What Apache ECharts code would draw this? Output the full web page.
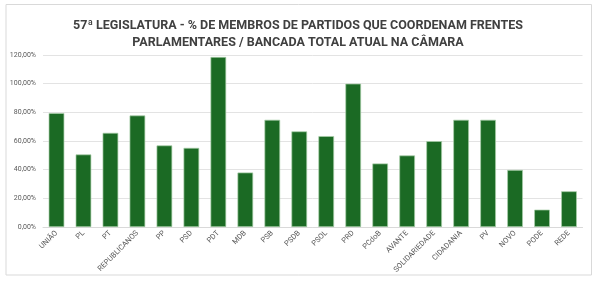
<!DOCTYPE html>
<html>
<head>
<meta charset="utf-8">
<script src="https://cdn.jsdelivr.net/npm/echarts@6/dist/echarts.min.js"></script>
<style>
  html, body { margin: 0; padding: 0; background: #fff; }
  #chart { width: 596px; height: 281px; }
</style>
</head>
<body>
<div id="chart"></div>
<script>
// partidos
var partidos = ['UNIÃO', 'PL', 'PT', 'REPUBLICANOS', 'PP', 'PSD', 'PDT', 'MDB', 'PSB', 'PSDB',
  'PSOL', 'PRD', 'PCdoB', 'AVANTE', 'SOLIDARIEDADE', 'CIDADANIA', 'PV', 'NOVO', 'PODE', 'REDE'];
// % de membros que coordenam frentes
var percentuais = [79.5, 50.6, 65.7, 77.8, 56.9, 55.2, 118.6, 38.0, 74.8, 66.7,
  63.4, 100.0, 44.3, 49.9, 59.9, 74.8, 74.8, 39.8, 12.1, 24.9];

var chart = echarts.init(document.getElementById('chart'));

var option = {
  animation: false,
  title: {
    text: '57ª LEGISLATURA - % DE MEMBROS DE PARTIDOS QUE COORDENAM FRENTES\nPARLAMENTARES / BANCADA TOTAL ATUAL NA CÂMARA',
    left: 'center',
    top: 13,
    textStyle: {
      fontFamily: 'Roboto, sans-serif',
      fontSize: 12.5,
      fontWeight: 'bold',
      color: '#404040',
      lineHeight: 16.5,
      align: 'center'
    }
  },
  grid: { left: 43, right: 13.5, top: 55, bottom: 54 },
  xAxis: {
    type: 'category',
    data: partidos,
    axisLine: { lineStyle: { color: '#d9d9d9' } },
    axisTick: { show: false },
    axisLabel: {
      interval: 0,
      rotate: 45,
      fontSize: 7.5,
      color: '#595959',
      margin: 5,
      fontFamily: 'Roboto, sans-serif'
    }
  },
  yAxis: {
    type: 'value',
    min: 0,
    max: 120,
    interval: 20,
    axisLine: { show: false },
    axisTick: { show: false },
    splitLine: { lineStyle: { color: '#e3e3e3' } },
    axisLabel: {
      fontSize: 7,
      color: '#595959',
      margin: 7,
      fontFamily: 'Roboto, sans-serif',
      formatter: function (v) { return v.toFixed(2).replace('.', ',') + '%'; }
    }
  },
  series: [{
    type: 'bar',
    data: percentuais,
    barWidth: '58%',
    itemStyle: {
      color: '#1b6a24',
      borderColor: '#a9cfa9',
      borderWidth: 0.7
    }
  }],
  graphic: [{
    type: 'rect',
    shape: { x: 6, y: 4.5, width: 585.5, height: 270.5 },
    style: { fill: 'none', stroke: '#d9d9d9', lineWidth: 1 },
    silent: true
  }]
};

chart.setOption(option);
</script>
</body>
</html>
